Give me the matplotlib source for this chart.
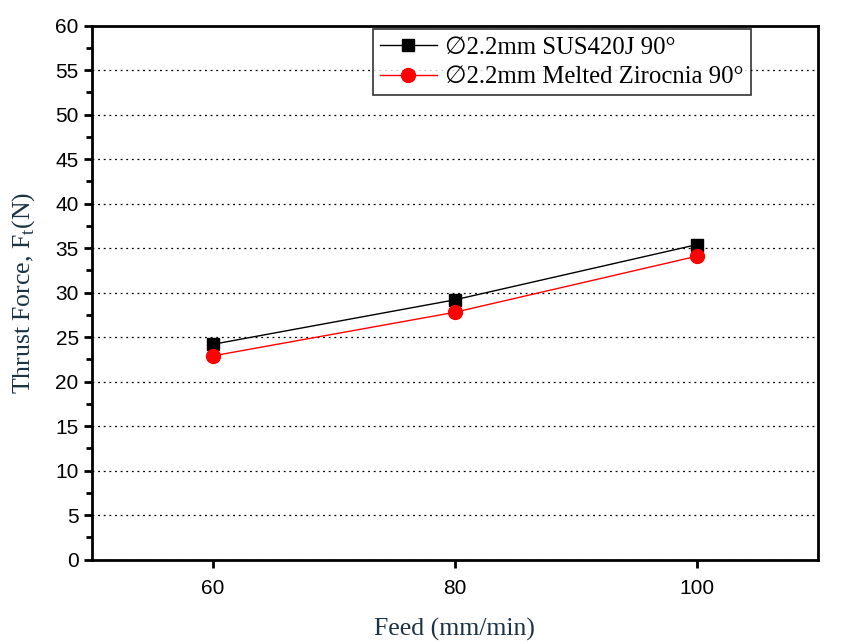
import matplotlib
matplotlib.use("Agg")
import matplotlib.pyplot as plt
from matplotlib.ticker import MultipleLocator

feed = [60, 80, 100]
sus420j = [24.2, 29.2, 35.4]
zirconia = [22.9, 27.8, 34.1]
labels = ["\u22052.2mm SUS420J 90\u00b0", "\u22052.2mm Melted Zirocnia 90\u00b0"]

fig = plt.figure(figsize=(8.51, 6.44), dpi=100)
ax = fig.add_axes([0.108, 0.131, 0.853, 0.829])

ax.plot(feed, sus420j, color="black", lw=1, marker="s", ms=9, label=labels[0])
ax.plot(feed, zirconia, color="red", lw=1, marker="o", ms=10, label=labels[1])

ax.set_xlim(50, 110)
ax.set_ylim(0, 60)
ax.set_xticks(feed)
ax.yaxis.set_major_locator(MultipleLocator(5))
ax.yaxis.set_minor_locator(MultipleLocator(2.5))
ax.grid(axis="y", which="major", linestyle=(0, (1.5, 3)), color="black", lw=0.9)
ax.set_axisbelow(True)

for s in ax.spines.values():
    s.set_linewidth(2)
ax.tick_params(axis="both", which="major", direction="out", length=6, width=2,
               labelsize=15, top=False, right=False)
ax.tick_params(axis="y", which="minor", direction="out", length=4, width=2)
ax.tick_params(axis="x", which="minor", bottom=False)
ax.tick_params(axis="x", which="major", pad=8)
for lab in ax.get_xticklabels() + ax.get_yticklabels():
    lab.set_fontfamily("Liberation Sans")

lc = "#1c3344"
ax.set_xlabel("Feed (mm/min)", fontsize=18.5, family="Liberation Serif", color=lc, labelpad=14)
ax.set_ylabel(r"Thrust Force, F$_\mathregular{t}$(N)", fontsize=18.5, family="Liberation Serif",
              color=lc, labelpad=13)

leg = ax.legend(loc="upper left", bbox_to_anchor=(0.387, 0.993), frameon=True, fancybox=False,
                edgecolor="black", handlelength=2.3, borderpad=0.28,
                labelspacing=0.3, handletextpad=0.35, borderaxespad=0,
                prop={"family": ["Liberation Serif", "DejaVu Sans"], "size": 17.8})
leg.get_frame().set_linewidth(1.2)

fig.savefig("out.png", dpi=100)
